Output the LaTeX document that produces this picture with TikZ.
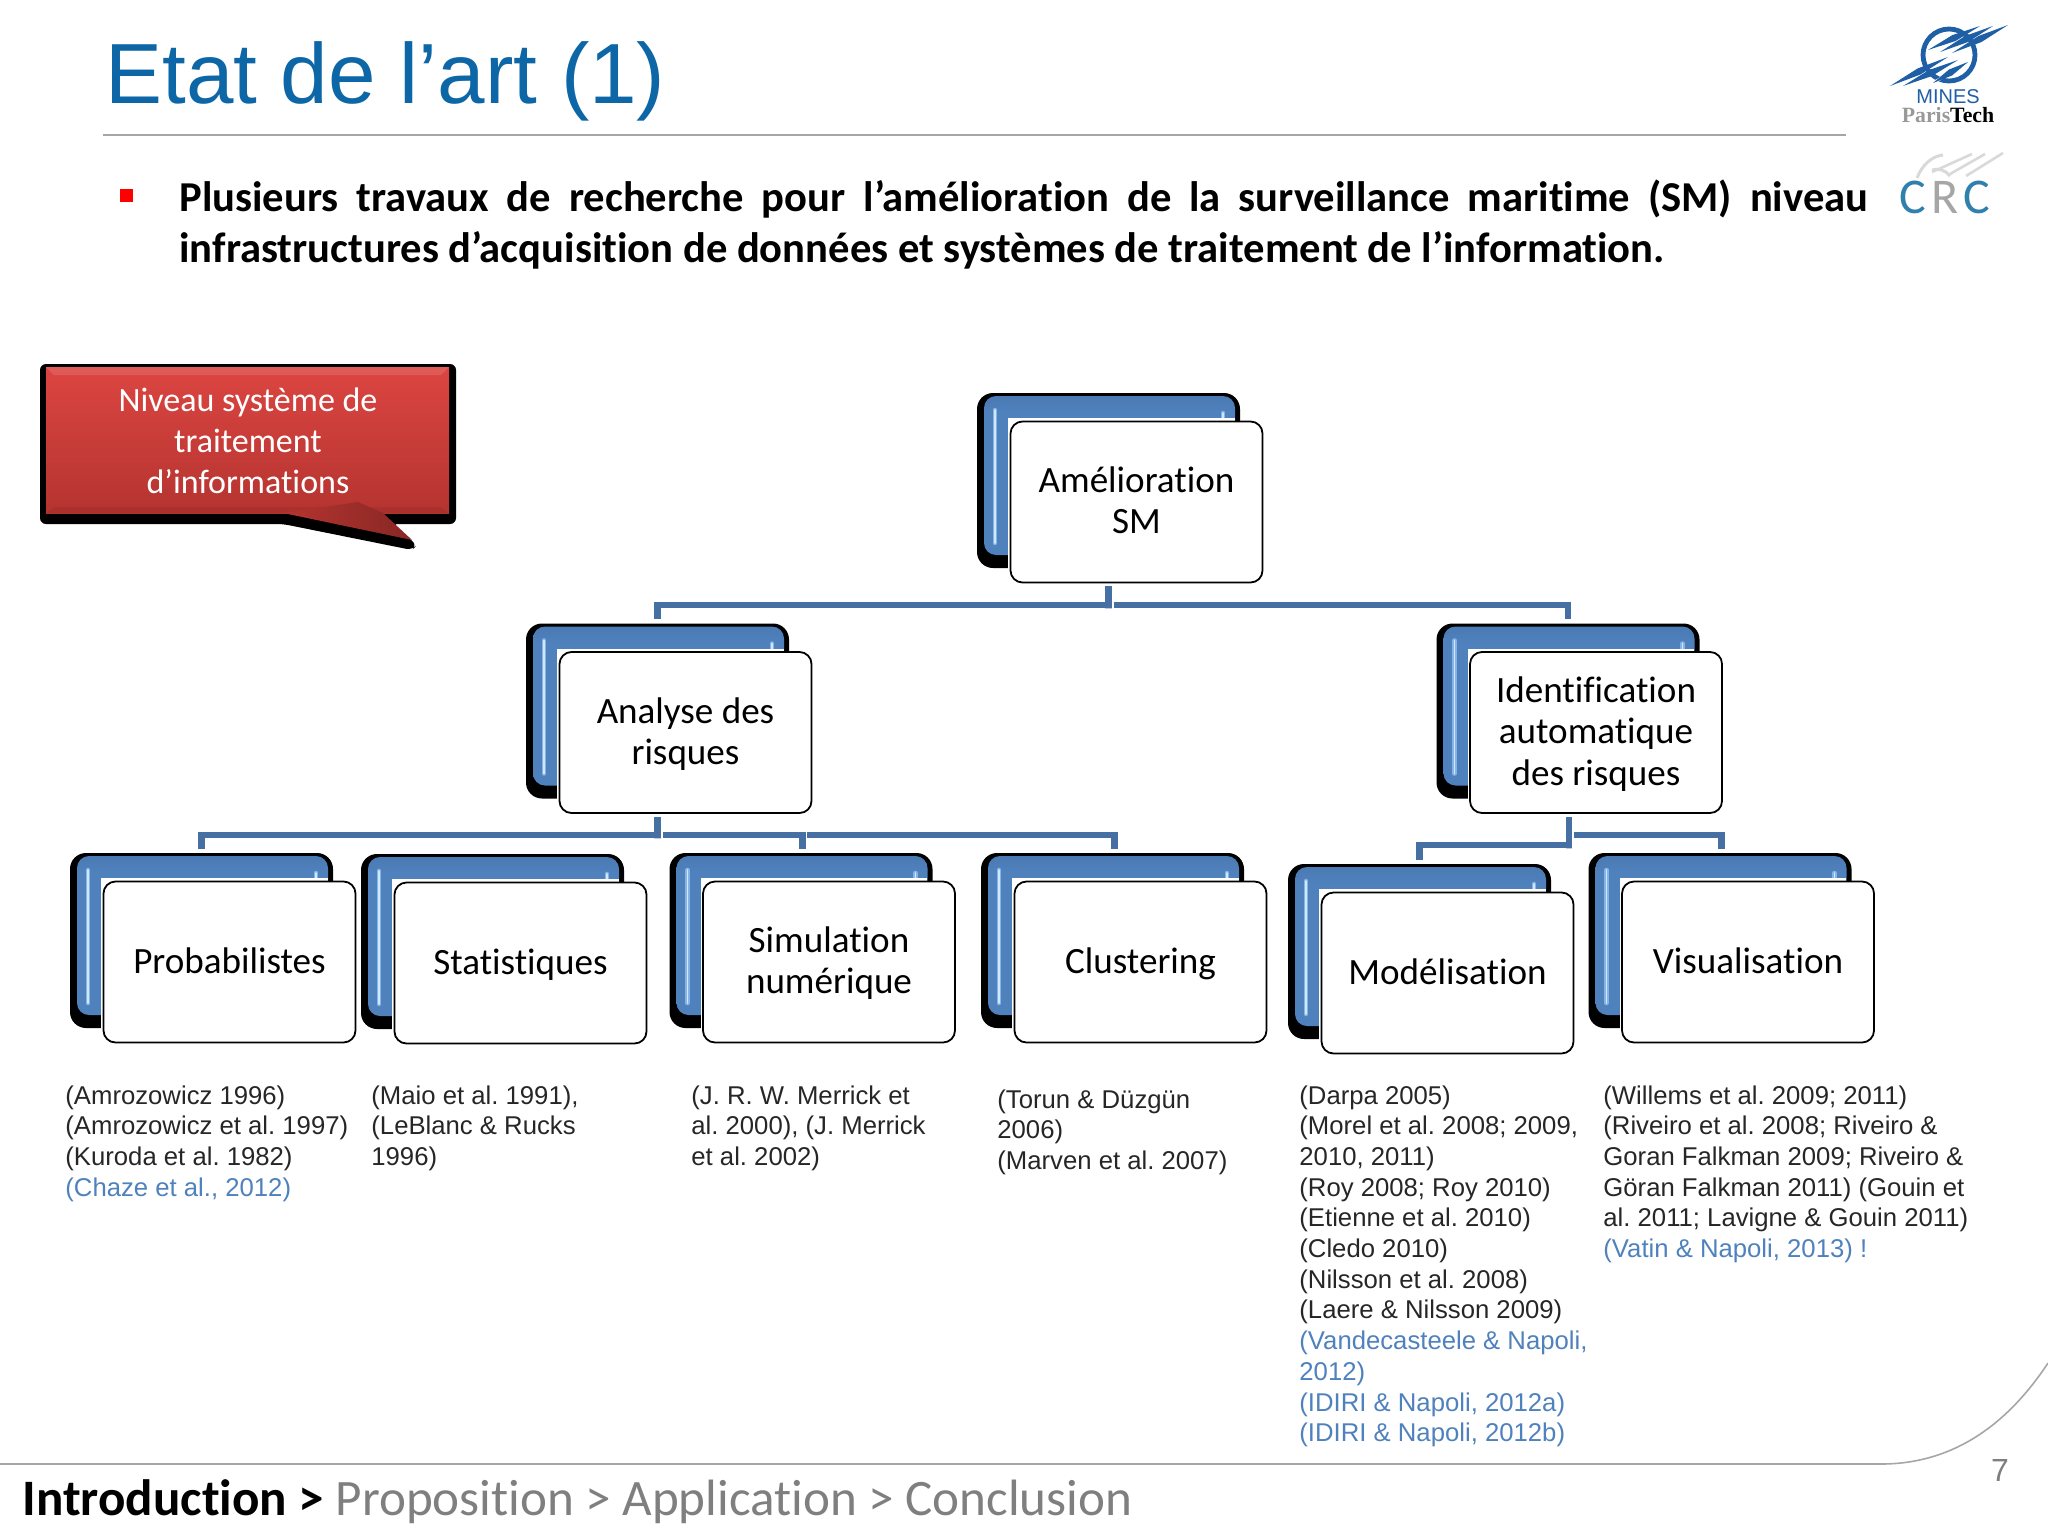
\documentclass[tikz,border=0pt]{standalone}
\usepackage{fontspec}
\setmainfont{Carlito}[Ligatures=NoCommon]
\newfontfamily\arialfont{Liberation Sans}
\newfontfamily\timesfont{Liberation Serif}
\usetikzlibrary{calc}

\definecolor{titleblue}{HTML}{0D66A6}
\definecolor{linkblue}{HTML}{466FA3}
\definecolor{faceblue}{HTML}{4F81BD}
\definecolor{glintblue}{HTML}{86B4E6}
\definecolor{glintpale}{HTML}{D0E8FC}
\definecolor{citeblue}{HTML}{4F81BD}
\definecolor{footgray}{HTML}{7F7F7F}
\definecolor{rulegray}{HTML}{A6A6A6}
\definecolor{logoblue}{HTML}{1F5FA6}
\definecolor{crcblue}{HTML}{2F80AC}
\definecolor{redtop}{HTML}{DC4541}
\definecolor{redbot}{HTML}{B53430}

\pgfdeclareverticalshading{faceshade}{100bp}{
  color(0bp)=(faceblue); color(70bp)=(faceblue); color(84bp)=(faceblue!85!black);
  color(97bp)=(faceblue!70!white); color(100bp)=(faceblue!70!white)}

% one card: name, centre x, centre y, text
\newcommand{\card}[4]{%
  \node[cardblack] (bk_#1) at (#2-28,#3-21.5) {};
  \node[cardblue] (bl_#1) at (#2-27,#3-26.5) {};
  \draw[glint] (#2-141.5,#3-92) -- (#2-141.5,#3+41);
  \draw[glint] (#2+86.5,#3-89) -- (#2+86.5,#3-84);
  \fill[white] (#2-128.5,#3-84) rectangle (#2+98,#3+70);
  \node[cardfront] (fr_#1) at (#2,#3) {\rule{0pt}{14.5pt}#4\vphantom{Ag}};
}

\begin{document}
\begin{tikzpicture}[x=0.5pt,y=-0.5pt,
  cardblack/.style={fill=black, rounded corners=8pt, minimum width=131.5pt, minimum height=87.5pt, inner sep=0},
  cardblue/.style={shading=faceshade, rounded corners=6pt, minimum width=125.5pt, minimum height=79.5pt, inner sep=0},
  cardfront/.style={draw=black, line width=0.9pt, fill=white, rounded corners=6pt, align=center, inner sep=0,
    minimum width=126pt, minimum height=80.5pt, font=\fontsize{18.55}{20.6}\selectfont},
  glint/.style={draw=glintblue, line width=.7pt, double=glintpale, double distance=.9pt, line cap=round},
  link/.style={draw=linkblue, line width=3.4pt},
  cite/.style={anchor=north west, inner sep=0, align=left, text=black!85,
    font=\arialfont\frenchspacing\fontsize{12.85}{15.35}\selectfont},
  streak/.style={fill=logoblue},
]
\useasboundingbox (0,0) rectangle (2048,1536);

% head of the slide
\node[anchor=base west, inner sep=0, text=titleblue, font=\arialfont\fontsize{42.7}{46}\selectfont] (titre) at (105,104) {Etat de l’art (1)};
\draw[rulegray, line width=0.7pt] (103,135) -- (1846,135);
\node[fill=red, inner sep=0, minimum size=6.5pt] (puce) at (126.5,195) {};
\node[anchor=north west, inner sep=0, text width=844.5pt, align=justify, font=\bfseries\fontsize{21.3}{25.8}\selectfont] (intro) at (179,179)
  {Plusieurs travaux de recherche pour l’amélioration de la surveillance maritime (SM) niveau\linebreak infrastructures d’acquisition de données et systèmes de traitement de l’information.};

% logos
\draw[logoblue, line width=2.4pt] (1949,55) circle (26);
\foreach \xa/\ya/\xb/\yb in {1890/86/1948/57, 1903/86/1958/60, 1933/83/1968/62, 2008/25/1952/53, 1993/26/1940/52, 1980/26/1928/50} {
  \draw[white, line width=1.4pt] (\xa,\ya) -- (\xb,\yb);
  \fill[streak] (\xa,\ya) -- ({(\xa+\xb)/2+1.5},{(\ya+\yb)/2+3}) -- (\xb,\yb) -- ({(\xa+\xb)/2-1.5},{(\ya+\yb)/2-3}) -- cycle;
}
\node[inner sep=0, text=logoblue, font=\arialfont\fontsize{10}{10}\selectfont] (mines) at (1948,97) {MINES};
\node[inner sep=0, font=\timesfont\bfseries\fontsize{10.9}{11}\selectfont] (paristech) at (1948,115) {\textcolor{black!40}{Paris}Tech};
\draw[black!15, line width=1.5pt] (1917,178) .. controls (1922,165) and (1932,156) .. (1943,155);
\draw[black!15, line width=1.5pt] (1950,176) .. controls (1946,170) and (1938,168) .. (1932,170);
\foreach \xa/\ya/\xb/\yb in {2003/153/1966/176, 1985/154/1950/174, 1972/154/1932/172} {
  \draw[black!15, line width=1.3pt] (\xa,\ya) -- (\xb,\yb);
}
\node[inner sep=0, font=\fontsize{25}{26}\selectfont] (crc) at (1945,197) {\textcolor{crcblue}{C}\hspace{2.6pt}\textcolor{black!35}{R}\hspace{2.6pt}\textcolor{crcblue}{C}};

% callout
\fill[black, rounded corners=3pt] (40,364) -- (456,364) -- (456,524) -- (392,524) -- (417,545) -- (412,550) -- (283,524) -- (40,524) -- cycle;
\shade[top color=redtop, bottom color=redbot] (46,367) rectangle (449,513);
\fill[white, opacity=.12] (46,367) -- (449,367) -- (441,375) -- (54,375) -- cycle;
\fill[black, opacity=.06] (46,513) -- (449,513) -- (441,507) -- (54,507) -- cycle;
\shade[left color=redbot, right color=redbot!75!black] (283,513) -- (358,502) -- (383,513) -- (412,540) -- cycle;
\node[align=center, text=white, inner sep=0, font=\fontsize{17}{20.5}\selectfont] (bulle) at (248,441) {Niveau système de\\traitement\\d’informations};

% cards
\card{amelio}{1136.5}{502}{Amélioration\\SM}
\card{analyse}{685.5}{732.5}{Analyse des\\risques}
\card{ident}{1596}{732.5}{Identification\\automatique\\des risques}
\card{proba}{229.5}{962}{Probabilistes}
\card{stat}{520.5}{963}{Statistiques}
\card{simu}{829}{962}{Simulation\\numérique}
\card{clust}{1140.5}{962}{Clustering}
\card{model}{1447.5}{973}{Modélisation}
\card{visu}{1748}{962}{Visualisation}

% connectors
\coordinate (j_amelio) at (bk_amelio.south |- 0,605);
\coordinate (j_analyse) at (bk_analyse.south |- 0,835);
\coordinate (j_simu) at ([xshift=.6pt]bk_simu.north |- 0,835);
\coordinate (j_identg) at (1569,845);
\coordinate (j_identd) at (1569,835);
\draw[link] ([yshift=-1.5pt]bk_amelio.south |- fr_amelio.south) -- ([yshift=-1.7pt]j_amelio) -- (j_amelio) -| ([yshift=2pt]bk_analyse.north);
\draw[link] ([xshift=2.6pt]j_amelio) -| ([yshift=2pt]bk_ident.north);
\draw[link] ([yshift=-1.5pt]bk_analyse.south |- fr_analyse.south) -- ([yshift=-1.7pt]j_analyse) -- (j_analyse) -| ([yshift=2pt]bk_proba.north);
\draw[link] ([xshift=2.6pt]j_analyse) -| ([xshift=.6pt,yshift=2pt]bk_simu.north);
\draw[link] ([xshift=2.6pt]j_simu) -| ([xshift=.8pt,yshift=2pt]bk_clust.north);
\draw[link] ([yshift=-1.5pt]j_identg |- fr_ident.south) -- ([yshift=-1.7pt]j_identg) -- (j_identg) -| ([yshift=2pt]bk_model.north);
\draw[link] ([xshift=2.6pt]j_identd) -| ([xshift=.6pt,yshift=2pt]bk_visu.north);

% references
\node[cite] (ref_proba) at (65,1085) {(Amrozowicz 1996)\\(Amrozowicz et al. 1997)\\(Kuroda et al. 1982)\\\textcolor{citeblue}{(Chaze et al., 2012)}};
\node[cite] (ref_stat) at (371,1085) {(Maio et al. 1991),\\(LeBlanc \& Rucks\\1996)};
\node[cite] (ref_simu) at (691,1085) {(J. R. W. Merrick et\\al. 2000), (J. Merrick\\et al. 2002)};
\node[cite] (ref_clust) at (997,1089) {(Torun \& Düzgün\\2006)\\(Marven et al. 2007)};
\node[cite] (ref_model) at (1299,1085) {(Darpa 2005)\\(Morel et al. 2008; 2009,\\2010, 2011)\\(Roy 2008; Roy 2010)\\(Etienne et al. 2010)\\(Cledo 2010)\\(Nilsson et al. 2008)\\(Laere \& Nilsson 2009)\\\textcolor{citeblue}{(Vandecasteele \& Napoli,}\\\textcolor{citeblue}{2012)}\\\textcolor{citeblue}{(IDIRI \& Napoli, 2012a)}\\\textcolor{citeblue}{(IDIRI \& Napoli, 2012b)}};
\node[cite] (ref_visu) at (1603,1085) {(Willems et al. 2009; 2011)\\(Riveiro et al. 2008; Riveiro \&\\Goran Falkman 2009; Riveiro \&\\Göran Falkman 2011) (Gouin et\\al. 2011; Lavigne \& Gouin 2011)\\\textcolor{citeblue}{(Vatin \& Napoli, 2013) !}};

% foot of the slide
\draw[rulegray, line width=0.8pt] (0,1464) -- (1881,1464) .. controls (1950,1464) and (2005,1428) .. (2048,1363);
\node[anchor=base west, inner sep=0, text=footgray, font=\fontsize{25.55}{28}\selectfont] (plan) at (22,1515) {\textcolor{black}{\bfseries Introduction >} Proposition > Application > Conclusion};
\node[inner sep=0, text=footgray, font=\arialfont\fontsize{16}{16}\selectfont] (numero) at (2000,1470) {7};
\end{tikzpicture}
\end{document}
